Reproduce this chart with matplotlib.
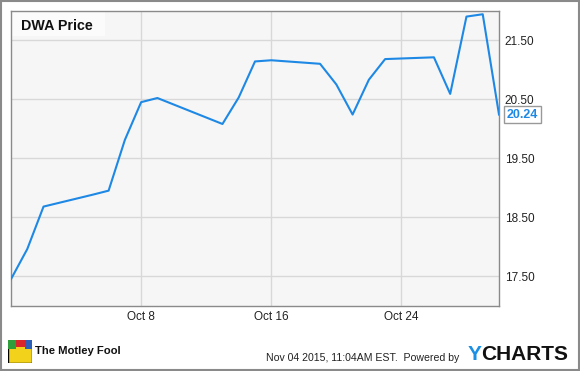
import numpy as np
import matplotlib
matplotlib.use("Agg")
import matplotlib.pyplot as plt
import matplotlib.dates as mdates
from matplotlib.patches import Rectangle
import datetime

plt.rcParams["font.family"] = ["Liberation Sans", "DejaVu Sans"]

# DWA closing prices, trading days Sep 30 - Oct 30 2015
dates = ["2015-09-30", "2015-10-01", "2015-10-02", "2015-10-05", "2015-10-06",
         "2015-10-07", "2015-10-08", "2015-10-09", "2015-10-12", "2015-10-13",
         "2015-10-14", "2015-10-15", "2015-10-16", "2015-10-19", "2015-10-20",
         "2015-10-21", "2015-10-22", "2015-10-23", "2015-10-26", "2015-10-27",
         "2015-10-28", "2015-10-29", "2015-10-30"]
prices = [17.45, 17.96, 18.68, 18.88, 18.95,
          19.81, 20.45, 20.52, 20.19, 20.08,
          20.53, 21.14, 21.16, 21.10, 20.75,
          20.24, 20.83, 21.18, 21.21, 20.59,
          21.90, 21.94, 20.24]
xtick_dates = ["2015-10-08", "2015-10-16", "2015-10-24"]
xtick_labels = ["Oct 8", "Oct 16", "Oct 24"]
yticks = [17.5, 18.5, 19.5, 20.5, 21.5]

x = [datetime.datetime.strptime(d, "%Y-%m-%d") for d in dates]
xt = [datetime.datetime.strptime(d, "%Y-%m-%d") for d in xtick_dates]

line_color = "#1e88e5"

fig = plt.figure(figsize=(5.8, 3.71), dpi=100)
ax = fig.add_axes([11 / 580, 1 - 305.7 / 371, 488 / 580, 295 / 371])
ax.set_facecolor("#f6f6f6")

ax.plot(x, prices, color=line_color, lw=1.5, zorder=3)

ax.set_xlim(x[0], x[-1])
ax.set_ylim(17.0, 22.0)
ax.set_xticks(xt)
ax.set_xticklabels(xtick_labels)
ax.set_yticks(yticks)
ax.set_yticklabels(["%.2f" % v for v in yticks])
ax.yaxis.tick_right()
ax.tick_params(length=0, labelsize=8.5, labelcolor="#222222")
ax.tick_params(axis="y", pad=4)
ax.tick_params(axis="x", pad=4)
ax.grid(True, color="#d8d8d8", lw=1)
ax.set_axisbelow(True)
for s in ax.spines.values():
    s.set_color("#8a8a8a")
    s.set_linewidth(1)

# title box in the upper left
ax.add_patch(Rectangle((0, 0.914), 0.193, 0.086, transform=ax.transAxes,
                       facecolor="#fbfbfb", edgecolor="none", zorder=2))
ax.text(0.02, 0.948, "DWA Price", transform=ax.transAxes, fontsize=10.3,
        fontweight="bold", va="center", ha="left", color="#111111", zorder=4)

# last value tag
ax.annotate("%.2f" % prices[-1], xy=(x[-1], prices[-1]), xytext=(5.5, 0),
            textcoords="offset points", va="center", ha="left", fontsize=9,
            fontweight="bold", color=line_color, annotation_clip=False,
            bbox=dict(boxstyle="square,pad=0.2", fc="white", ec="#999999", lw=1))

# footer
fig.text(266 / 580, 1 - 358 / 371, "Nov 04 2015, 11:04AM EST.  Powered by",
         fontsize=7.6, va="center", ha="left", color="#222222")
fig.text(468 / 580, 1 - 355 / 371, "Y", fontsize=15, fontweight="bold",
         va="center", ha="left", color="#1a8fe3")
fig.text(481 / 580, 1 - 355 / 371, "CHARTS", fontsize=15, fontweight="bold",
         va="center", ha="left", color="#111111")

# motley fool mark
logo = fig.add_axes([8 / 580, 1 - 363 / 371, 24 / 580, 23 / 371])
logo.set_xlim(0, 1)
logo.set_ylim(0, 1)
logo.add_patch(Rectangle((0, 0), 1, 1, fc="#f2d21b", ec="black", lw=1))
logo.add_patch(Rectangle((0, 0.6), 0.35, 0.4, fc="#2e9e3a", ec="none"))
logo.add_patch(Rectangle((0.35, 0.7), 0.35, 0.3, fc="#d8262b", ec="none"))
logo.add_patch(Rectangle((0.7, 0.6), 0.3, 0.4, fc="#2c5fb8", ec="none"))
logo.set_xticks([])
logo.set_yticks([])
for s in logo.spines.values():
    s.set_visible(False)
fig.text(35 / 580, 1 - 351 / 371, "The Motley Fool", fontsize=8.1,
         fontweight="bold", va="center", ha="left", color="#111111")

fig.patches.append(Rectangle((0.001, 0.002), 0.997, 0.996, transform=fig.transFigure,
                             fill=False, ec="#8a8a8a", lw=1.5))

fig.savefig("out.png", dpi=100)
